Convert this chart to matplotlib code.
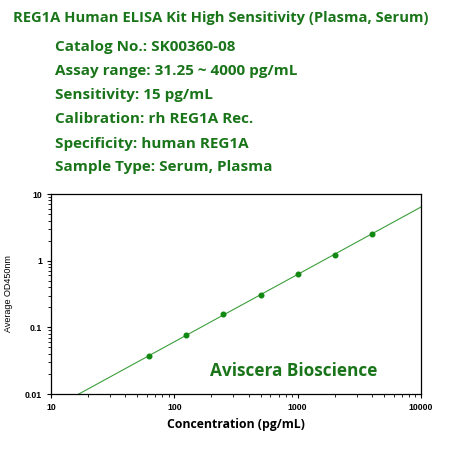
"""Standard curve for the REG1A human ELISA kit."""

from matplotlib import pyplot
from matplotlib import ticker
import numpy

# Standard concentrations (pg/mL) and measured average OD450.
conc = [62.5, 125, 250, 500, 1000, 2000, 4000]
od450 = [0.0367, 0.0757, 0.161, 0.308, 0.625, 1.23, 2.52]

title = 'REG1A Human ELISA Kit High Sensitivity (Plasma, Serum)'
info_lines = ['Catalog No.: SK00360-08',
              'Assay range: 31.25 ~ 4000 pg/mL',
              'Sensitivity: 15 pg/mL',
              'Calibration: rh REG1A Rec.',
              'Specificity: human REG1A',
              'Sample Type: Serum, Plasma']
info_y = [47, 71, 95, 119, 144, 167]  # line centres in pixels

green = '#1a751a'

# Power-law fit in log-log space.
slope, icpt = numpy.polyfit(numpy.log10(conc), numpy.log10(od450), 1)
xfit = numpy.logspace(1, 4, num=200)
yfit = 10**(icpt + slope * numpy.log10(xfit))

fig = pyplot.figure(figsize=(4.5, 4.5), dpi=100)
W = H = 450.0

fig.text(13 / W, 1 - 18 / H, title, fontsize=10.65, fontweight='bold',
         family='Open Sans', color=green, va='center', ha='left')
for text, ypx in zip(info_lines, info_y):
    fig.text(55 / W, 1 - ypx / H, text, fontsize=10.95, fontweight='bold',
             family='Open Sans', color=green, va='center', ha='left')

ax = fig.add_axes([51 / W, 1 - 394 / H, 370 / W, 200 / H])
ax.set_xscale('log')
ax.set_yscale('log')
ax.plot(xfit, yfit, color='#3c9e3c', linewidth=0.8)
ax.scatter(conc, od450, color='#118811', s=11, zorder=3)
ax.set_xlim(10, 10000)
ax.set_ylim(0.01, 10)

ax.xaxis.set_major_formatter(ticker.FuncFormatter(lambda v, p: f'{v:g}'))
ax.yaxis.set_major_formatter(ticker.FuncFormatter(lambda v, p: f'{v:g}'))
ax.tick_params(which='major', direction='out', length=3, width=0.8,
               labelsize=6.3)
ax.tick_params(which='minor', direction='out', length=2, width=0.6)
for lbl in ax.get_xticklabels() + ax.get_yticklabels():
    lbl.set_fontweight('bold')
    lbl.set_family('Liberation Sans')
for spine in ax.spines.values():
    spine.set_linewidth(0.9)

ax.set_xlabel('Concentration (pg/mL)', fontsize=8.8, fontweight='bold',
              family='Open Sans')
ax.xaxis.set_label_coords(0.5, -0.12)
ax.set_ylabel('Average OD450nm', fontsize=6.5, family='Liberation Sans')
ax.yaxis.set_label_coords(-0.103, 0.5)

ax.text(0.429, 0.115, 'Aviscera Bioscience', transform=ax.transAxes,
        fontsize=12.4, fontweight='bold', family='Open Sans', color=green,
        va='center', ha='left')

fig.savefig('out.png', dpi=100)
